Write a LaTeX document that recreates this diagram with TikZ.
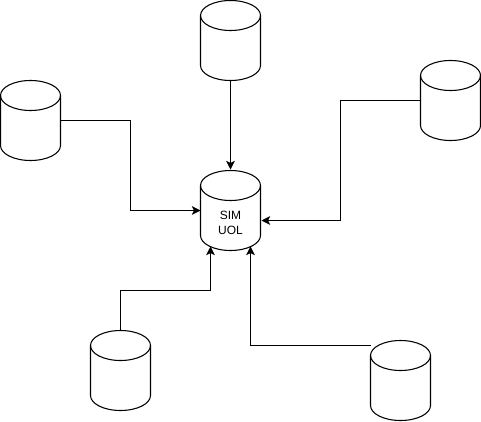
\documentclass[tikz,border=0pt]{standalone}
\usepackage{fontspec}
\setmainfont{Liberation Sans}
\usetikzlibrary{arrows.meta}
\newcommand{\cyl}[2]{% name, (x,y) top-left in px; 60x80
  \begin{scope}[shift={(#2)}]
    \fill[white] (0,-15) arc[start angle=180,end angle=0,x radius=30,y radius=15] -- (60,-65) arc[start angle=0,end angle=-180,x radius=30,y radius=15] -- cycle;
    \draw[cylline] (0,-15) arc[start angle=180,end angle=0,x radius=30,y radius=15] -- (60,-65) arc[start angle=0,end angle=-180,x radius=30,y radius=15] -- cycle;
    \draw[cylline] (0,-15) arc[start angle=180,end angle=360,x radius=30,y radius=15];
    \coordinate (#1) at (30,-40);
    \coordinate (#1-w) at (0,-40);
    \coordinate (#1-e) at (60,-40);
    \coordinate (#1-n) at (30,0);
    \coordinate (#1-s) at (30,-80);
  \end{scope}}
\tikzset{x=0.75pt,y=0.75pt,
  cylline/.style={draw=black,line width=0.8pt},
  conn/.style={draw=black,line width=0.75pt,-{Stealth[length=6.5pt,width=6.5pt,inset=1.6pt]}},
  lab/.style={font=\fontsize{9pt}{11.25pt}\selectfont,align=center,text=black}}
\begin{document}
\begin{tikzpicture}
\useasboundingbox (0,0) rectangle (481,-421);
\fill[white] (0,0) rectangle (481,-421);
\begin{scope}[shift={(0.5,-0.5)}]
\cyl{top}{200,0}
\cyl{left}{0,-80}
\cyl{right}{420,-60}
\cyl{sim}{200,-170}
\cyl{bl}{90,-330}
\cyl{br}{370,-340}
\node[lab] (simlabel) at (230,-222.5) {SIM\\UOL};
\coordinate (simleft) at (200,-210);
\coordinate (simright) at (261,-220);
\coordinate (simbl) at (210,-246);
\coordinate (simbr) at (250,-246);
\coordinate (simtop) at (230,-169);
\coordinate (brport) at (370,-345);
\draw[conn] (top-s) -- (simtop);
\draw[conn] (left-e) -- (130,-120) -- (130,-210) -- (simleft);
\draw[conn] (right-w) -- (340,-100) -- (340,-220) -- (simright);
\draw[conn] (bl-n) -- (120,-290) -- (210,-290) -- (simbl);
\draw[conn] (brport) -- (250,-345) -- (simbr);
\end{scope}
\end{tikzpicture}
\end{document}
